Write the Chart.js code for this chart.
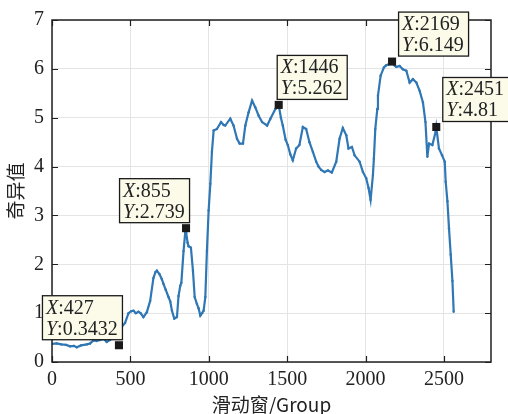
<!DOCTYPE html>
<html>
<head>
<meta charset="utf-8">
<script src="https://cdn.jsdelivr.net/npm/chart.js@4.4.1/dist/chart.umd.min.js"></script>
<style>
  html, body { margin: 0; padding: 0; background: #ffffff; }
  #wrap { width: 508px; height: 414px; position: relative; }
</style>
</head>
<body>
<div id="wrap"><canvas id="c" width="508" height="414"></canvas></div>
<script>
// ---- data ----
const groupX = [0,30,60,90,115,140,158,185,222,243,264,285,307,330,349,370,395,420,445,466,488,505,520,535,551,565,583,605,626,647,660,669,685,700,711,725,743,754,765,780,797,807,818,825,839,850,856,865,871,886,899,910,924,935,946,957,967,978,988,999,1010,1020,1031,1052,1078,1095,1105,1137,1158,1180,1197,1218,1233,1254,1276,1297,1318,1340,1372,1393,1425,1446,1460,1472,1490,1504,1520,1536,1557,1578,1600,1621,1642,1664,1685,1700,1717,1738,1760,1785,1813,1834,1855,1877,1891,1913,1930,1962,1983,2004,2019,2032,2047,2053,2062,2075,2079,2096,2117,2130,2150,2169,2185,2196,2217,2238,2260,2281,2302,2324,2345,2366,2382,2394,2405,2426,2447,2451,2468,2488,2505,2511,2522,2532,2543,2554,2562];
const singularValues = [0.37,0.38,0.36,0.35,0.32,0.33,0.30,0.34,0.36,0.38,0.44,0.43,0.45,0.47,0.41,0.45,0.55,0.62,0.72,0.80,1.00,1.04,1.05,1.00,1.03,1.00,0.92,1.02,1.25,1.72,1.84,1.87,1.80,1.70,1.60,1.48,1.33,1.24,1.05,0.89,0.92,1.35,1.56,1.62,2.27,2.66,2.64,2.44,2.37,2.34,1.87,1.33,1.19,1.10,0.95,1.00,1.05,1.33,2.27,3.10,3.65,4.30,4.74,4.77,4.91,4.85,4.84,4.98,4.84,4.57,4.47,4.47,4.84,5.11,5.35,5.21,5.04,4.91,4.84,4.98,5.18,5.26,5.00,4.84,4.55,4.44,4.25,4.13,4.37,4.44,4.81,4.77,4.50,4.30,4.10,4.00,3.93,3.89,3.92,3.88,4.10,4.57,4.79,4.64,4.37,4.40,4.23,4.10,3.89,3.76,3.56,3.32,3.83,4.16,4.77,5.18,5.45,5.86,6.03,6.07,6.10,6.149,6.07,6.04,6.06,5.99,5.96,5.72,5.79,5.72,5.55,5.31,4.91,4.20,4.47,4.44,4.71,4.81,4.37,4.23,4.10,3.69,3.29,2.74,2.20,1.66,1.03];
const tipX = [427, 855, 1446, 2169, 2451];
const tipY = [0.3432, 2.739, 5.262, 6.149, 4.81];
const tipYText = ['0.3432', '2.739', '5.262', '6.149', '4.81'];
const yTicks = [0,1,2,3,4,5,6,7];
const xTicks = [0,500,1000,1500,2000,2500];
const xTitle = '滑动窗/Group';
const yTitle = '奇异值';

const SERIF = "'Liberation Serif', serif";
const CJK = "'Noto Sans CJK SC', serif";
const TXT = '#222222';

const lineData = groupX.map((x, i) => ({ x: x, y: singularValues[i] }));
const tipData = tipX.map((x, i) => ({ x: x, y: tipY[i] }));

// where each datatip box sits relative to its marker
const tipSide = ['left', 'left', 'right', 'right', 'right'];

const framePlugin = {
  id: 'frame',
  afterDatasetsDraw(chart) {
    const { ctx, chartArea: a, scales } = chart;
    const xs = scales.x, ys = scales.y;
    ctx.save();
    ctx.strokeStyle = '#1f1f1f';
    ctx.lineWidth = 1.5;
    ctx.strokeRect(a.left, a.top, a.right - a.left, a.bottom - a.top);
    ctx.lineWidth = 1.2;
    const tl = 6;
    ctx.beginPath();
    xTicks.forEach(v => {
      const p = Math.round(xs.getPixelForValue(v)) + 0.5;
      ctx.moveTo(p, a.bottom); ctx.lineTo(p, a.bottom - tl);
      ctx.moveTo(p, a.top); ctx.lineTo(p, a.top + tl);
    });
    yTicks.forEach(v => {
      const p = Math.round(ys.getPixelForValue(v)) + 0.5;
      ctx.moveTo(a.left, p); ctx.lineTo(a.left + tl, p);
      ctx.moveTo(a.right, p); ctx.lineTo(a.right - tl, p);
    });
    ctx.stroke();
    ctx.restore();
  }
};

const tipPlugin = {
  id: 'tips',
  afterDraw(chart) {
    const { ctx, scales } = chart;
    ctx.save();
    tipX.forEach((xv, i) => {
      const px = scales.x.getPixelForValue(xv);
      const py = scales.y.getPixelForValue(tipY[i]);
      const lines = [['X', ':' + xv], ['Y', ':' + tipYText[i]]];
      let w = 0;
      lines.forEach(l => {
        ctx.font = 'italic 20px ' + SERIF;
        const a = ctx.measureText(l[0]).width;
        ctx.font = '20px ' + SERIF;
        const b = ctx.measureText(l[1]).width;
        w = Math.max(w, a + b);
      });
      const bw = Math.round(w + 8), bh = 44;
      let left, top;
      if (tipSide[i] === 'left') { left = px + 3 - bw; top = py - 6 - bh; }
      else { left = px + (i === 2 ? -2 : 6); top = py - 6 - bh; }
      ctx.fillStyle = '#fcfbe9';
      ctx.fillRect(left, top, bw, bh);
      ctx.strokeStyle = '#1a1a1a';
      ctx.lineWidth = 1.3;
      ctx.strokeRect(left + 0.5, top + 0.5, bw, bh);
      ctx.fillStyle = TXT;
      ctx.textBaseline = 'alphabetic';
      lines.forEach((l, k) => {
        const by = top + 18.5 + k * 21;
        ctx.font = 'italic 20px ' + SERIF;
        ctx.fillText(l[0], left + 4, by);
        const a = ctx.measureText(l[0]).width;
        ctx.font = '20px ' + SERIF;
        ctx.fillText(l[1], left + 4 + a, by);
      });
    });
    ctx.restore();
  }
};

new Chart(document.getElementById('c'), {
  type: 'line',
  data: {
    datasets: [
      {
        label: 'tips',
        data: tipData,
        showLine: false,
        pointStyle: 'rect',
        pointRadius: 5.7,
        pointBackgroundColor: '#1a1a1a',
        pointBorderColor: '#1a1a1a',
        pointBorderWidth: 0,
        order: 0
      },
      {
        label: 'singular',
        data: lineData,
        borderColor: '#2f77b5',
        borderWidth: 2.2,
        pointRadius: 1.2,
        pointBackgroundColor: '#2f77b5',
        pointBorderWidth: 0,
        tension: 0,
        order: 1
      }
    ]
  },
  options: {
    responsive: false,
    animation: false,
    devicePixelRatio: 1,
    layout: { padding: { left: 0, top: 17, right: 17, bottom: 0 } },
    plugins: { legend: { display: false }, tooltip: { enabled: false } },
    scales: {
      x: {
        type: 'linear',
        min: 0, max: 2800,
        afterBuildTicks(s) { s.ticks = xTicks.map(v => ({ value: v })); },
        afterFit(s) { s.height = 52; },
        grid: { color: '#e4e4e4', lineWidth: 1, drawTicks: false },
        border: { display: false },
        ticks: { padding: 6, color: TXT, font: { family: SERIF, size: 20 }, maxRotation: 0, callback: v => String(v) },
        title: { display: true, text: xTitle, color: TXT, padding: { top: 0, bottom: 0 }, font: { family: CJK, size: 19, lineHeight: 1.0 } }
      },
      y: {
        type: 'linear',
        min: 0, max: 7,
        afterBuildTicks(s) { s.ticks = yTicks.map(v => ({ value: v })); },
        afterFit(s) { s.width = 52; },
        grid: { color: '#e4e4e4', lineWidth: 1, drawTicks: false },
        border: { display: false },
        ticks: { padding: 8, color: TXT, font: { family: SERIF, size: 20 }, callback: v => String(v) },
        title: { display: true, text: yTitle, color: TXT, padding: { top: 6, bottom: 0 }, font: { family: CJK, size: 19, lineHeight: 1.0 } }
      }
    }
  },
  plugins: [framePlugin, tipPlugin]
});
</script>
</body>
</html>
